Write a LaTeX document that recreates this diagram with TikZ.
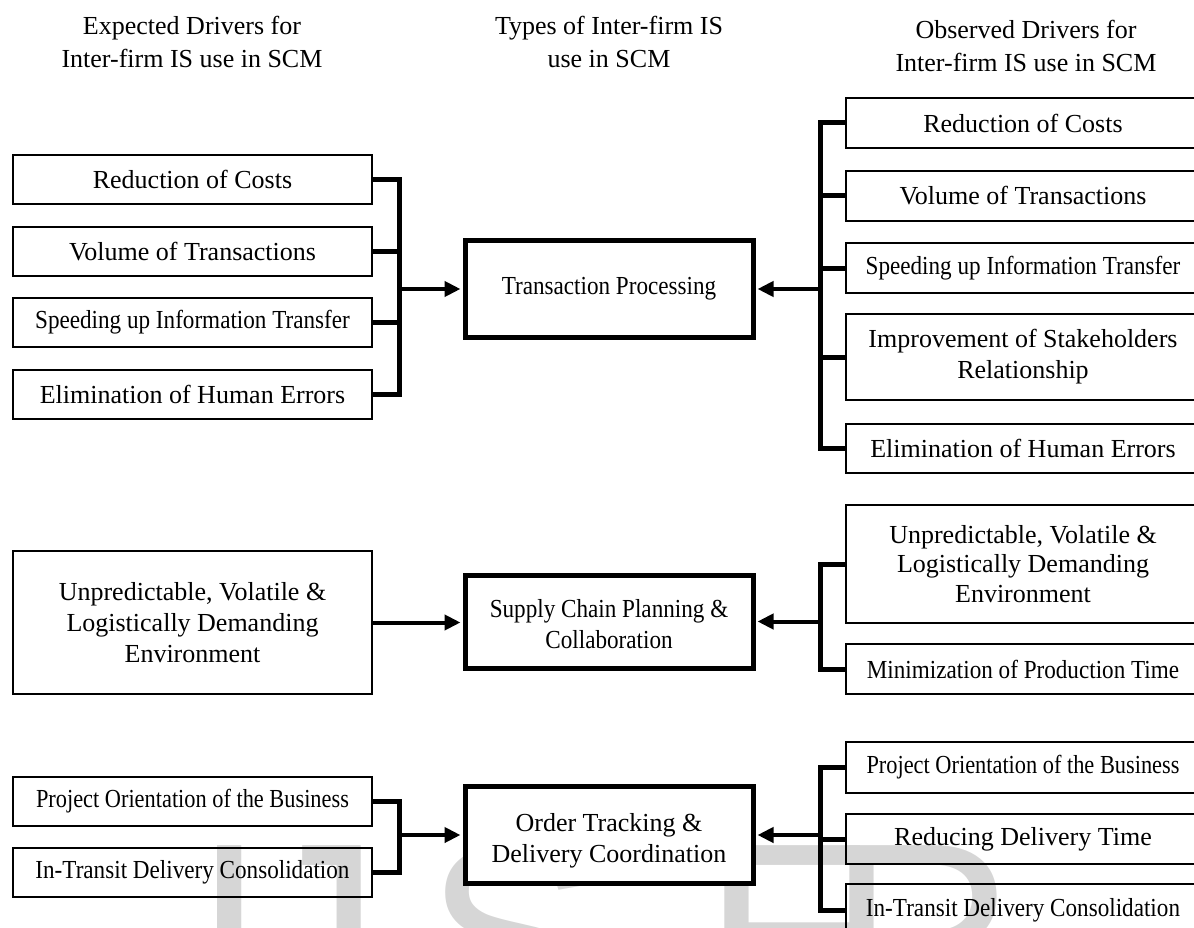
\documentclass[tikz,border=0pt]{standalone}
\usepackage{fontspec}
\setmainfont{Liberation Serif}
\newfontfamily\cnd[FakeStretch=0.89]{Liberation Serif}
\newfontfamily\cndb[FakeStretch=0.86]{Liberation Serif}
\newfontfamily\wmfont{Liberation Sans}
\usetikzlibrary{arrows.meta}
\newcommand\lowtext[1]{\raisebox{-12pt}[0pt][0pt]{\begin{tabular}{@{}c@{}}#1\end{tabular}}}
\tikzset{
  every node/.style={font=\fontsize{26}{31}\selectfont},
  hdr/.style={align=center, inner sep=0pt, font=\fontsize{26}{33}\selectfont},
  sbox/.style={draw, line width=2pt, inner sep=0pt, align=center, minimum width=359pt},
  rbox/.style={draw, line width=2.6pt, inner sep=0pt, align=center, minimum width=354pt},
  cbox/.style={draw, fill=white, line width=5pt, inner sep=0pt, align=center, minimum width=288pt},
  bus/.style={line width=5pt},
  arr/.style={line width=4pt, shorten >=2pt, -{Triangle[length=16pt,width=15pt]}},
  wm/.style={text=black!16, font=\wmfont\fontsize{260}{260}\selectfont, inner sep=0pt, anchor=north},
}
\begin{document}
\begin{tikzpicture}[x=1pt,y=-1pt]
\path[use as bounding box] (0,0) rectangle (1194,928);
\clip (0,0) rectangle (1194,928);
% watermark
\node[wm] (w1) at (230,845) {I};
\node[wm] (w2) at (315,845) {J};
\node[wm] (w3) at (512,845) {S};
\node[wm] (w4) at (790,845) {E};
\node[wm] (w5) at (922,845) {R};
% headers
\node[hdr] (h1) at (192,41.5) {Expected Drivers for\\Inter-firm IS use in SCM};
\node[hdr] (h2) at (609,41.5) {Types of Inter-firm IS\\use in SCM};
\node[hdr] (h3) at (1026,45.5) {Observed Drivers for\\Inter-firm IS use in SCM};
% bus positions
\coordinate (lb) at (399,0);
\coordinate (rb) at (820,0);
% central boxes
\node[cbox, minimum height=97pt] (t1) at (609,289) {\cnd Transaction Processing};
\node[cbox, minimum height=93pt] (t2) at (609,621.5) {\lowtext{\cnd Supply Chain Planning \&\\\cnd Collaboration}};
\node[cbox, minimum height=97pt] (t3) at (609,835) {\lowtext{Order Tracking \&\\Delivery Coordination}};
% left group 1
\node[sbox, minimum height=49pt] (l1) at (192.5,179.5) {Reduction of Costs};
\node[sbox, minimum height=49pt] (l2) at (192.5,251.5) {Volume of Transactions};
\node[sbox, minimum height=49pt] (l3) at (192.5,322.5) {\cnd Speeding up Information Transfer};
\node[sbox, minimum height=49pt] (l4) at (192.5,394.5) {Elimination of Human Errors};
% right group 1
\node[rbox, minimum height=50pt] (r1) at (1023,123) {Reduction of Costs};
\node[rbox, minimum height=50pt] (r2) at (1023,196) {Volume of Transactions};
\node[rbox, minimum height=50pt] (r3) at (1023,268) {\cnd Speeding up Information Transfer};
\node[rbox, minimum height=86pt] (r4) at (1023,357) {Improvement of Stakeholders\\Relationship};
\node[rbox, minimum height=49pt] (r5) at (1023,448.5) {Elimination of Human Errors};
% group 2
\node[sbox, minimum height=143pt] (m1) at (192.5,622.5) {Unpredictable, Volatile \&\\Logistically Demanding\\Environment};
\node[rbox, minimum height=118pt, font=\fontsize{26}{29.5}\selectfont] (s1) at (1023,564) {Unpredictable, Volatile \&\\Logistically Demanding\\Environment};
\node[rbox, minimum height=50pt] (s2) at (1023,669) {\cnd Minimization of Production Time};
% group 3
\node[sbox, minimum height=49pt] (p1) at (192.5,801.5) {\cndb Project Orientation of the Business};
\node[sbox, minimum height=49pt] (p2) at (192.5,872.5) {\cnd In-Transit Delivery Consolidation};
\node[rbox, minimum height=51pt] (q1) at (1023,767.5) {\cndb Project Orientation of the Business};
\node[rbox, minimum height=50pt] (q2) at (1023,839) {Reducing Delivery Time};
\node[rbox, minimum height=52pt] (q3) at (1023,910) {\cnd In-Transit Delivery Consolidation};
% connectors group 1
\draw[bus] (l1.east) -- (l1.east -| lb) -- (l4.east -| lb) -- (l4.east);
\draw[bus] (l2.east) -- (l2.east -| lb);
\draw[bus] (l3.east) -- (l3.east -| lb);
\draw[arr] (t1.west -| lb) -- (t1.west);
\draw[bus] (r1.west) -- (r1.west -| rb) -- (r5.west -| rb) -- (r5.west);
\draw[bus] (r2.west) -- (r2.west -| rb);
\draw[bus] (r3.west) -- (r3.west -| rb);
\draw[bus] (r4.west) -- (r4.west -| rb);
\draw[arr] (t1.east -| rb) -- (t1.east);
% connectors group 2
\draw[arr] (m1.east) -- (m1.east -| t2.west);
\draw[bus] (s1.west) -- (s1.west -| rb) -- (s2.west -| rb) -- (s2.west);
\draw[arr] (t2.east -| rb) -- (t2.east);
% connectors group 3
\draw[bus] (p1.east) -- (p1.east -| lb) -- (p2.east -| lb) -- (p2.east);
\draw[arr] (t3.west -| lb) -- (t3.west);
\draw[bus] (q1.west) -- (q1.west -| rb) -- (q3.west -| rb) -- (q3.west);
\draw[bus] (q2.west) -- (q2.west -| rb);
\draw[arr] (t3.east -| rb) -- (t3.east);
\end{tikzpicture}
\end{document}
